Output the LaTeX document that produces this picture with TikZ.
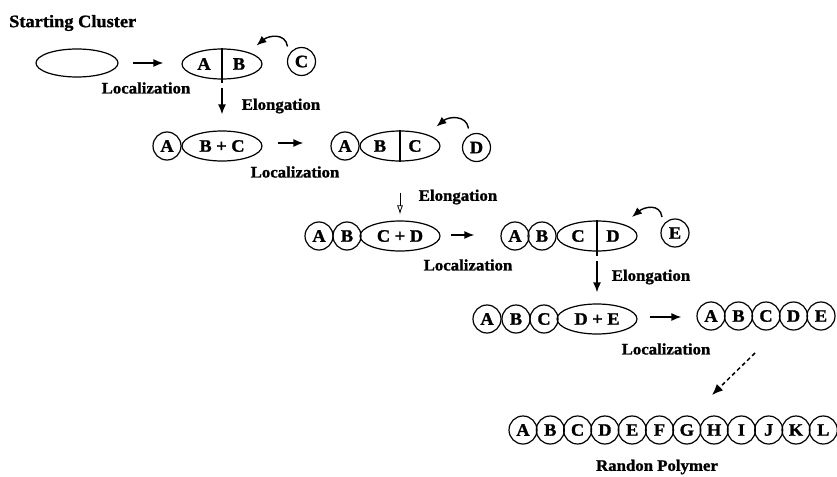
\documentclass[tikz,border=0pt]{standalone}
\usepackage{fontspec}
\setmainfont{Liberation Serif}[FakeStretch=1.05, BoldFeatures={FakeBold=1.2}]
\usetikzlibrary{shapes.geometric,arrows.meta}

\begin{document}
\begin{tikzpicture}[x=1pt,y=-1pt,
  txt/.style={font=\bfseries\fontsize{16}{18}\selectfont, inner sep=0pt},
  letter/.style={font=\bfseries\fontsize{17.5}{18}\selectfont, inner sep=0pt},
  bead/.style={circle, draw, line width=1.2pt, minimum size=28pt, inner sep=0pt,
    font=\bfseries\fontsize{17.5}{18}\selectfont},
  blob/.style={ellipse, draw, line width=1.2pt, minimum width=80pt, minimum height=30pt,
    inner sep=0pt, font=\bfseries\fontsize{17.5}{18}\selectfont},
  divider/.style={line width=1.1pt},
  arr/.style={line width=1.5pt, -{Latex[length=10pt,width=8pt]}},
  openarr/.style={line width=0.8pt, -{Latex[open,length=9pt,width=6pt]}},
  curvearr/.style={line width=1.4pt, -{Latex[length=10pt,width=8pt]}},
  dotarr/.style={line width=1.5pt, dash pattern=on 4pt off 3pt, -{Latex[length=11pt,width=9pt]}}
]
\useasboundingbox (0,0) rectangle (837,476);

% ---- row 1: starting cluster ----
\node[txt, font=\bfseries\fontsize{17.5}{20}\selectfont, anchor=west] (title) at (9,23) {Starting Cluster};
\node[blob, minimum width=82pt, minimum height=28pt] (s0) at (77,63) {};
\node[blob] (ab) at (222,64) {};
\draw[divider] (ab.north) -- ([yshift=-3pt]ab.south);
\node[letter] (abA) at ([xshift=-18pt]ab.center) {A};
\node[letter] (abB) at ([xshift=17pt]ab.center) {B};
\node[bead] (c1) at (301.5,61.5) {C};
\draw[arr] ([xshift=14pt]s0.east) -- ([xshift=-18pt,yshift=1pt]ab.west);
\node[txt] (loc1) at (146,88) {Localization};
\draw[curvearr] ([shift={(-14,-15)}]c1.center) .. controls +(-2,-14) and +(12,-10) .. ([shift={(-45,-16)}]c1.center);

% ---- row 2 ----
\node[bead] (a2) at (167,146) {A};
\node[blob] (bc1) at (222,146) {B + C};
\draw[arr] ([yshift=-8pt]ab.south) -- ([yshift=16pt]bc1.north);
\node[txt] (el1) at (281,106) {Elongation};
\node[bead] (a2b) at (345,146) {A};
\node[blob] (bc2) at (400,146) {};
\draw[divider] (bc2.north) -- (bc2.south);
\node[letter] (bcB) at ([xshift=-20pt]bc2.center) {B};
\node[letter] (bcC) at ([xshift=15pt]bc2.center) {C};
\node[bead] (d1) at (476.5,147.5) {D};
\draw[arr] ([xshift=15pt,yshift=3pt]bc1.east) -- ([xshift=-27pt,yshift=3pt]a2b.west);
\node[txt] (loc2) at (295,172) {Localization};
\draw[curvearr] ([shift={(-8,-19)}]d1.center) .. controls +(-2,-14) and +(12,-10) .. ([shift={(-40,-21)}]d1.center);

% ---- row 3 ----
\node[bead] (a3) at (319,236) {A};
\node[bead] (b3) at (347,236) {B};
\node[blob] (cd1) at (400,236) {C + D};
\draw[openarr] ([yshift=-31pt]bc2.south) -- ([yshift=6pt]cd1.north);
\node[txt] (el2) at (458,197) {Elongation};
\node[bead] (a3b) at (515,236) {A};
\node[bead] (b3b) at (542,236) {B};
\node[blob] (cd2) at (597,236) {};
\draw[divider] (cd2.north) -- ([yshift=-4pt]cd2.south);
\node[letter] (cdC) at ([xshift=-19pt]cd2.center) {C};
\node[letter] (cdD) at ([xshift=16pt]cd2.center) {D};
\node[bead] (e1) at (675,233) {E};
\draw[arr] ([xshift=10pt,yshift=1pt]cd1.east) -- ([xshift=-26pt,yshift=1pt]a3b.west);
\node[txt] (loc3) at (468,265) {Localization};
\draw[curvearr] ([shift={(-13,-16)}]e1.center) .. controls +(-2,-14) and +(12,-10) .. ([shift={(-43,-16)}]e1.center);

% ---- row 4 ----
\node[bead] (a4) at (487,319) {A};
\node[bead] (b4) at (516,319) {B};
\node[bead] (c4) at (544,319) {C};
\node[blob] (de1) at (597,319) {D + E};
\draw[arr] ([yshift=-9pt]cd2.south) -- ([yshift=11pt]de1.north);
\node[txt] (el3) at (651,277) {Elongation};
\node[bead] (a4b) at (711,316) {A};
\node[bead] (b4b) at (738.5,316) {B};
\node[bead] (c4b) at (766,316) {C};
\node[bead] (d4b) at (793.5,316) {D};
\node[bead] (e4b) at (821,316) {E};
\draw[arr] ([xshift=12pt,yshift=2pt]de1.east) -- ([xshift=-15pt,yshift=-1pt]a4b.west);
\node[txt] (loc4) at (666,349) {Localization};

% ---- final chain ----
\foreach \l [count=\i] in {A,B,C,D,E,F,G,H,I,J,K,L}
  \node[bead] (p\l) at ({523+27.3*(\i-1)},430) {\l};
\coordinate (dashstart) at (755,353);
\coordinate (dashend) at (712,395);
\draw[dotarr] (dashstart) -- (dashend);
\node[txt] (poly) at (657,467) {Randon Polymer};
\end{tikzpicture}
\end{document}
